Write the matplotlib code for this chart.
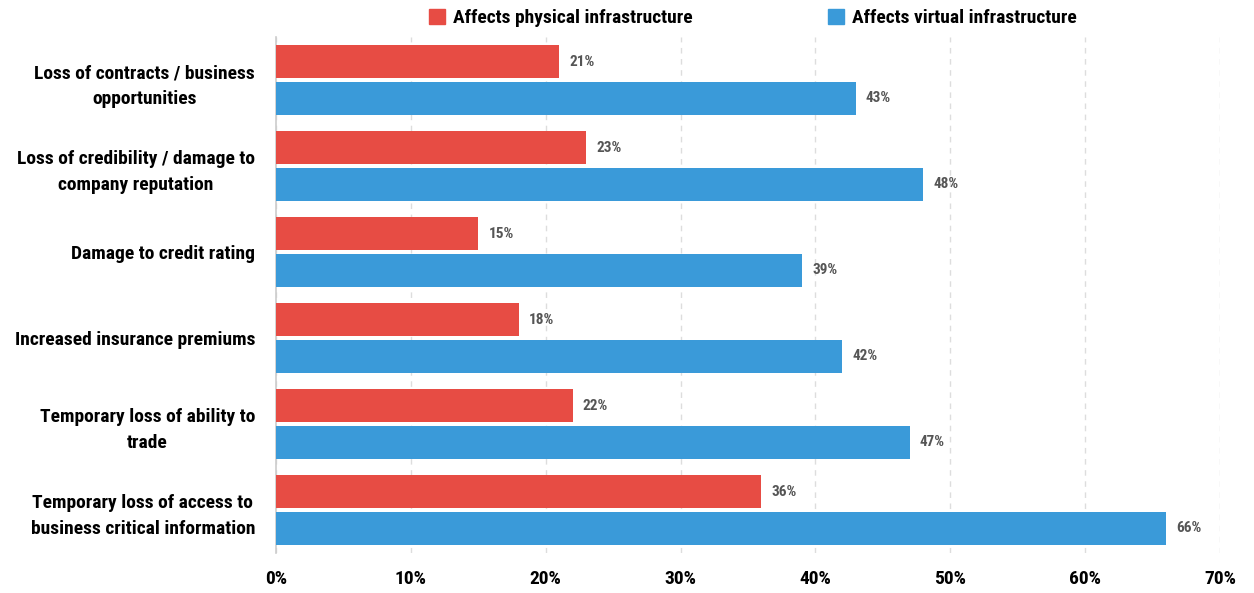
import matplotlib
matplotlib.use("Agg")
import matplotlib.pyplot as plt
import numpy as np
from matplotlib import font_manager
from matplotlib.patches import Patch

categories = [
    "Loss of contracts / business\nopportunities",
    "Loss of credibility / damage to\ncompany reputation",
    "Damage to credit rating",
    "Increased insurance premiums",
    "Temporary loss of ability to\ntrade",
    "Temporary loss of access to\nbusiness critical information",
]
physical = [21, 23, 15, 18, 22, 36]
virtual = [43, 48, 39, 42, 47, 66]
series_names = ["Affects physical infrastructure", "Affects virtual infrastructure"]
xticks = [0, 10, 20, 30, 40, 50, 60, 70]

RED = "#e74c44"
BLUE = "#3a9ad9"

# pick a condensed bold font if one is installed
installed = {f.name for f in font_manager.fontManager.ttflist}
font_kw = {"family": "DejaVu Sans", "stretch": "condensed"}
for cand in ["Roboto Condensed", "Liberation Sans Narrow", "Open Sans Condensed"]:
    if cand in installed:
        font_kw = {"family": cand}
        break

fig = plt.figure(figsize=(12.54, 5.93), dpi=100)
ax = fig.add_axes([276 / 1254, 1 - 553 / 593, (1220 - 276) / 1254, (553 - 37) / 593])

y = np.arange(len(categories))
h = 0.385
gap = 0.02
ax.barh(y - h / 2 - gap, physical, height=h, color=RED, zorder=3)
ax.barh(y + h / 2 + gap, virtual, height=h, color=BLUE, zorder=3)

for yi, v in zip(y, physical):
    ax.text(v + 0.75, yi - h / 2 - gap, f"{v}%", va="center", ha="left",
            fontsize=11, fontweight="bold", color="#555555", **font_kw)
for yi, v in zip(y, virtual):
    ax.text(v + 0.75, yi + h / 2 + gap, f"{v}%", va="center", ha="left",
            fontsize=11, fontweight="bold", color="#555555", **font_kw)

ax.set_xlim(0, 70)
ax.set_ylim(len(categories) - 0.5, -0.5)
ax.set_xticks(xticks)
ax.set_xticklabels([f"{t}%" for t in xticks], fontsize=14, fontweight="bold", **font_kw)
ax.set_yticks(y)
ax.set_yticklabels(categories, fontsize=14, fontweight="bold",
                   multialignment="center", linespacing=1.6, **font_kw)
ax.tick_params(axis="both", length=0)
ax.tick_params(axis="x", pad=12)
ax.tick_params(axis="y", pad=15)

ax.grid(axis="x", color="#dddddd", linestyle=(0, (4, 4)), linewidth=1, zorder=0)
for s in ["top", "right", "bottom"]:
    ax.spines[s].set_visible(False)
ax.spines["left"].set_color("#cccccc")
ax.spines["left"].set_linewidth(1.2)

handles = [Patch(color=RED), Patch(color=BLUE)]
leg = fig.legend(handles, series_names, loc="center", ncol=2,
                 bbox_to_anchor=(753 / 1254, 1 - 18 / 593), frameon=False,
                 handlelength=0.8, handleheight=0.8, handletextpad=0.4,
                 columnspacing=7.0,
                 prop=font_manager.FontProperties(size=14, weight="bold", **font_kw))

fig.savefig("out.png", dpi=100)
